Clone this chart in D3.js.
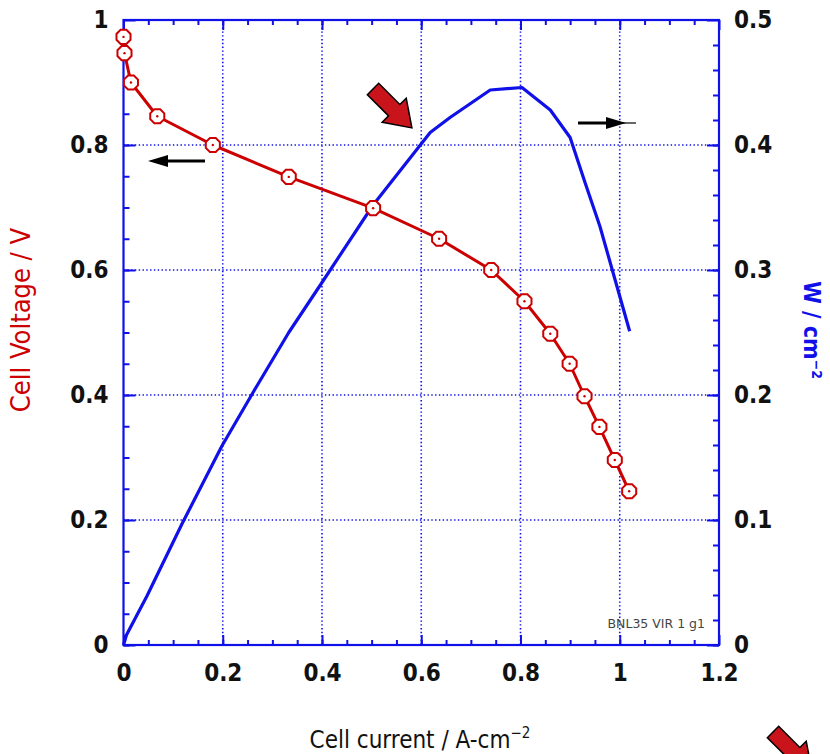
<!DOCTYPE html>
<html>
<head>
<meta charset="utf-8">
<script src="https://cdn.jsdelivr.net/npm/d3@7"></script>
<style>
  body { margin: 0; background: #fff; }
  svg { display: block; }
</style>
</head>
<body>
<script>
const W = 830
const H = 754
const blue = "#1010e8"
const red = "#cc0000"

// polarization curve (red, left axis)
const current = [0, 0.002, 0.015, 0.068, 0.18, 0.333, 0.503, 0.636, 0.741, 0.808, 0.86, 0.899, 0.929, 0.959, 0.99, 1.019]
const voltage = [0.973, 0.947, 0.9, 0.846, 0.8, 0.749, 0.699, 0.65, 0.6, 0.55, 0.498, 0.45, 0.398, 0.349, 0.296, 0.246]

// power density curve (blue, right axis)
const powerCurrent = [0, 0.006, 0.047, 0.118, 0.198, 0.261, 0.333, 0.4, 0.503, 0.618, 0.658, 0.739, 0.803, 0.86, 0.9, 0.93, 0.96, 0.99, 1.02]
const power = [0, 0.008, 0.039, 0.097, 0.159, 0.202, 0.25, 0.29, 0.352, 0.41, 0.422, 0.444, 0.446, 0.428, 0.406, 0.37, 0.335, 0.293, 0.251]

const xTicks = [0, 0.2, 0.4, 0.6, 0.8, 1, 1.2]
const yTicks = [0, 0.2, 0.4, 0.6, 0.8, 1]
const y2Ticks = [0, 0.1, 0.2, 0.3, 0.4, 0.5]

const pL = 123.5, pR = 719, pT = 20, pB = 645

let x = d3.scaleLinear().domain([0, 1.2]).range([pL, pR])
let yV = d3.scaleLinear().domain([0, 1]).range([pB, pT])
let yP = d3.scaleLinear().domain([0, 0.5]).range([pB, pT])

const fmt = d => String(+d.toFixed(2))

let svg = d3.select("body").append("svg")
    .attr("width", W)
    .attr("height", H)

// grid
let grid = svg.append("g")
    .attr("stroke", blue)
    .attr("stroke-width", 1.6)
    .attr("stroke-dasharray", "1.4,2.4")

grid.selectAll(".gx")
    .data(xTicks.slice(1, -1))
    .enter()
    .append("line")
    .attr("x1", d => x(d)).attr("x2", d => x(d))
    .attr("y1", pT).attr("y2", pB)

grid.selectAll(".gy")
    .data(yTicks.slice(1, -1))
    .enter()
    .append("line")
    .attr("y1", d => yV(d)).attr("y2", d => yV(d))
    .attr("x1", pL).attr("x2", pR)

// minor tick values
let xMinor = d3.range(0, 24).map(i => i * 0.05)
let yMinor = d3.range(0, 20).map(i => i * 0.05)
let y2Minor = d3.range(0, 25).map(i => i * 0.02)

function styleAxis(g, labels){
    g.select(".domain").remove()
    g.selectAll(".tick line").attr("stroke", blue).attr("stroke-width", 2)
    g.selectAll(".tick text")
        .attr("fill", "#111")
        .style("font-family", "'DejaVu Sans Condensed', 'DejaVu Sans', sans-serif")
        .style("font-weight", "bold")
        .style("font-size", labels ? "24px" : "0px")
}

svg.append("g").attr("transform", `translate(0,${pB})`)
    .call(d3.axisBottom(x).tickValues(xMinor).tickSize(-5).tickFormat(""))
    .call(g => styleAxis(g, false))
svg.append("g").attr("transform", `translate(0,${pB})`)
    .call(d3.axisBottom(x).tickValues(xTicks).tickSize(-10).tickPadding(19).tickFormat(fmt))
    .call(g => styleAxis(g, true))

svg.append("g").attr("transform", `translate(0,${pT})`)
    .call(d3.axisTop(x).tickValues(xMinor).tickSize(-5).tickFormat(""))
    .call(g => styleAxis(g, false))
svg.append("g").attr("transform", `translate(0,${pT})`)
    .call(d3.axisTop(x).tickValues(xTicks).tickSize(-10).tickFormat(""))
    .call(g => styleAxis(g, false))

svg.append("g").attr("transform", `translate(${pL},0)`)
    .call(d3.axisLeft(yV).tickValues(yMinor).tickSize(-6).tickFormat(""))
    .call(g => styleAxis(g, false))
svg.append("g").attr("transform", `translate(${pL},0)`)
    .call(d3.axisLeft(yV).tickValues(yTicks).tickSize(-12).tickPadding(15).tickFormat(fmt))
    .call(g => styleAxis(g, true))

svg.append("g").attr("transform", `translate(${pR},0)`)
    .call(d3.axisRight(yP).tickValues(y2Minor).tickSize(-6).tickFormat(""))
    .call(g => styleAxis(g, false))
svg.append("g").attr("transform", `translate(${pR},0)`)
    .call(d3.axisRight(yP).tickValues(y2Ticks).tickSize(-12).tickPadding(15).tickFormat(fmt))
    .call(g => styleAxis(g, true))

// frame
svg.append("rect")
    .attr("x", pL).attr("y", pT)
    .attr("width", pR - pL).attr("height", pB - pT)
    .attr("fill", "none")
    .attr("stroke", blue)
    .attr("stroke-width", 2.2)

// power line
let powerPts = powerCurrent.map((c, i) => [c, power[i]])
svg.append("path")
    .datum(powerPts)
    .attr("d", d3.line().x(d => x(d[0])).y(d => yP(d[1])))
    .attr("fill", "none")
    .attr("stroke", blue)
    .attr("stroke-width", 3.2)
    .attr("stroke-linejoin", "round")

// voltage line + markers
let vPts = current.map((c, i) => [c, voltage[i]])
svg.append("path")
    .datum(vPts)
    .attr("d", d3.line().x(d => x(d[0])).y(d => yV(d[1])))
    .attr("fill", "none")
    .attr("stroke", red)
    .attr("stroke-width", 3)
    .attr("stroke-linejoin", "round")

let octagon = d3.range(8).map(i => {
    let a = Math.PI / 8 + i * Math.PI / 4
    return [7.6 * Math.cos(a), 7.6 * Math.sin(a)]
})

let marks = svg.selectAll(".mark")
    .data(vPts)
    .enter()
    .append("g")
    .attr("transform", d => `translate(${x(d[0])},${yV(d[1])})`)

marks.append("polygon")
    .attr("points", octagon.map(p => p.join(",")).join(" "))
    .attr("fill", "white")
    .attr("stroke", red)
    .attr("stroke-width", 2)
marks.append("circle")
    .attr("r", 1.2)
    .attr("fill", red)

// black direction arrows
function blackArrow(x1, x2, yy){
    let dir = Math.sign(x2 - x1)
    svg.append("line")
        .attr("x1", x1).attr("x2", x2 - dir * 14)
        .attr("y1", yy).attr("y2", yy)
        .attr("stroke", "black").attr("stroke-width", 3)
    svg.append("polygon")
        .attr("points", `${x2},${yy} ${x2 - dir * 20},${yy - 6} ${x2 - dir * 20},${yy + 6}`)
        .attr("fill", "black")
}
blackArrow(205, 148, 161)
blackArrow(578, 626, 123)
svg.append("line")
    .attr("x1", 620).attr("x2", 636).attr("y1", 123).attr("y2", 123)
    .attr("stroke", "black").attr("stroke-width", 1.2)

// red block arrows
function blockArrow(cx, cy){
    svg.append("polygon")
        .attr("points", "0,-8 30,-8 30,-17 55,0 30,17 30,8 0,8")
        .attr("transform", `translate(${cx},${cy}) rotate(45)`)
        .attr("fill", "#c8141a")
        .attr("stroke", "black")
        .attr("stroke-width", 1.5)
        .attr("stroke-linejoin", "miter")
}
blockArrow(373, 89)
blockArrow(773, 732)

// label in corner
svg.append("text")
    .attr("x", 705).attr("y", 628)
    .attr("text-anchor", "end")
    .attr("fill", "#444")
    .style("font-family", "'DejaVu Sans', sans-serif")
    .style("font-size", "12.5px")
    .text("BNL35 VIR 1 g1")

// axis titles
let xt = svg.append("text")
    .attr("x", 420).attr("y", 748)
    .attr("text-anchor", "middle")
    .attr("fill", "#111")
    .style("font-family", "'DejaVu Sans Condensed', 'DejaVu Sans', sans-serif")
    .style("font-size", "24px")
xt.append("tspan").text("Cell current / A-cm")
xt.append("tspan").attr("dy", -10).style("font-size", "15px").text("−2")

svg.append("text")
    .attr("transform", "translate(30,320) rotate(-90)")
    .attr("text-anchor", "middle")
    .attr("fill", red)
    .style("font-family", "'DejaVu Sans Condensed', 'DejaVu Sans', sans-serif")
    .style("font-size", "27px")
    .text("Cell Voltage / V")

let rt = svg.append("text")
    .attr("transform", "translate(804,330) rotate(90)")
    .attr("text-anchor", "middle")
    .attr("fill", blue)
    .style("font-family", "'DejaVu Sans Condensed', 'DejaVu Sans', sans-serif")
    .style("font-weight", "bold")
    .style("font-size", "23px")
rt.append("tspan").text("W / cm")
rt.append("tspan").attr("dy", -8).style("font-size", "14px").text("−2")
</script>
</body>
</html>
